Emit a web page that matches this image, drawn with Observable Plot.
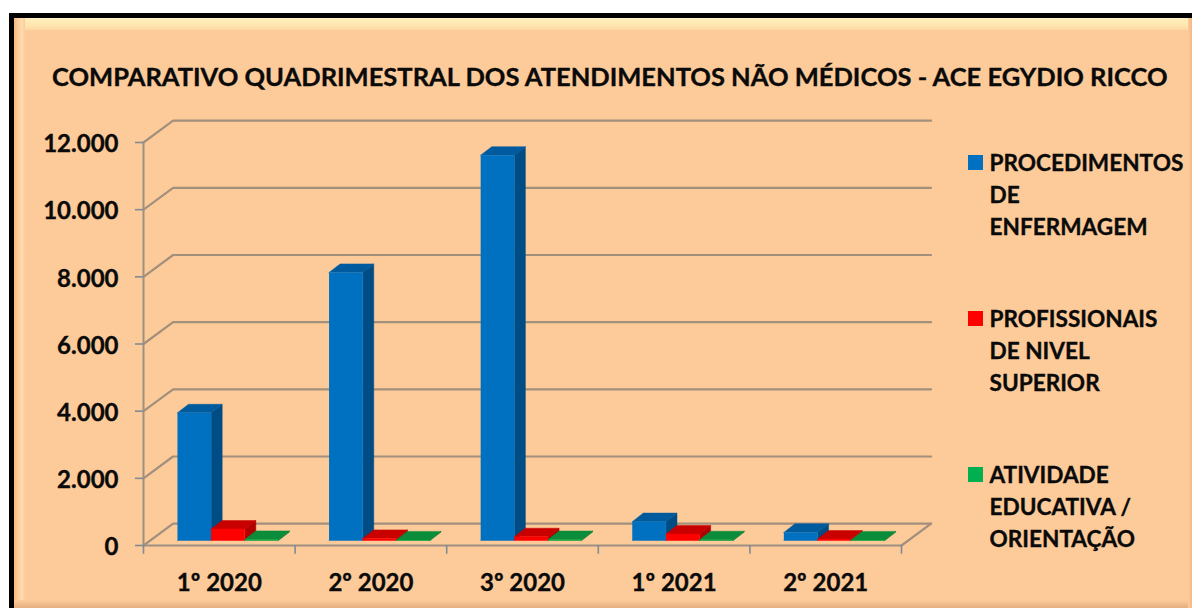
<!DOCTYPE html>
<html lang="pt">
<head>
<meta charset="utf-8">
<script src="https://cdn.jsdelivr.net/npm/d3@7"></script>
<script src="https://cdn.jsdelivr.net/npm/@observablehq/plot@0.6"></script>
<style>
html,body{margin:0;padding:0;background:#fff;width:1192px;height:608px;overflow:hidden;font-family:Lato,sans-serif;font-weight:700;color:#0a0a0a}
#frame{position:absolute;left:9px;top:13px;width:1183px;height:595px;box-sizing:border-box;border-left:5px solid #000;border-top:5px solid #000;background:#FDCB99;overflow:hidden}
.bevel{position:absolute}
#bt{left:0;right:4px;top:0;height:12px;background:linear-gradient(#FFF0BE,#FFE6B0 60%,#FDD7A4)}
#bl{left:0;top:0;bottom:0;width:11px;background:linear-gradient(90deg,#F9B87F,#FFDDB0 70%,#FDCB99)}
#bb{left:0;right:0;bottom:0;height:8px;background:linear-gradient(#FDCB99,#E5AE80)}
#br{right:0;top:0;bottom:0;width:4px;background:linear-gradient(90deg,#FDCB99,#F0B98A)}
#title{position:absolute;left:52px;top:58px;white-space:nowrap;font-size:25.5px;line-height:36px;-webkit-text-stroke:.35px #0a0a0a}
#chart{position:absolute;left:0;top:100px}
#chart text{stroke:#0a0a0a;stroke-width:.35px}
.leg{position:absolute;left:989.5px;font-size:22.6px;line-height:32.2px;white-space:nowrap;-webkit-text-stroke:.35px #0a0a0a}
.sw{position:absolute;left:968px;width:15px;height:15px}
</style>
</head>
<body>
<div id="frame"><div class="bevel" id="bt"></div><div class="bevel" id="bl"></div><div class="bevel" id="bb"></div><div class="bevel" id="br"></div></div>
<div id="title"></div>
<div id="chart"></div>
<div id="legend"></div>
<script>
const titleText = "COMPARATIVO QUADRIMESTRAL DOS ATENDIMENTOS NÃO MÉDICOS - ACE EGYDIO RICCO";
const categories = ["1º 2020", "2º 2020", "3º 2020", "1º 2021", "2º 2021"];
const procedimentos = [3800, 7980, 11470, 560, 240];
const profissionais = [340, 60, 110, 190, 40];
const atividade = [30, 15, 25, 20, 15];
const yTicks = [0, 2000, 4000, 6000, 8000, 10000, 12000];
const seriesNames = [["PROCEDIMENTOS", "DE", "ENFERMAGEM"], ["PROFISSIONAIS", "DE NIVEL", "SUPERIOR"], ["ATIVIDADE", "EDUCATIVA /", "ORIENTAÇÃO"]];
const seriesValues = [procedimentos, profissionais, atividade];
const palette = [
  {front: "#0070C0", side: "#004C85", top: "#005A9E", key: "#0070C0"},
  {front: "#FF0000", side: "#B00000", top: "#C80000", key: "#FF0000"},
  {front: "#00A040", side: "#007A30", top: "#0B8C3A", key: "#00B050"}
];

// Oblique projection, expressed in data units of the x and y scales
const wallX = 0.195, wallY = 650;     // depth of the floor / back wall
const barDX = 0.073, barDY = 255;     // depth of a bar
const baseY = 150;                    // bars stand slightly inside the floor
const barStart = 0.224, barWidth = 0.222;

const polys = [];
function poly(id, color, pts) { pts.forEach(([x, y]) => polys.push({id, color, x, y})); }
categories.forEach((c, i) => {
  seriesValues.forEach((vals, s) => {
    const x0 = i + barStart + s * barWidth, x1 = x0 + barWidth, y0 = baseY, y1 = baseY + vals[i];
    const p = palette[s], id = `${i}-${s}`;
    poly(id + "-side", p.side, [[x1, y0], [x1 + barDX, y0 + barDY], [x1 + barDX, y1 + barDY], [x1, y1]]);
    poly(id + "-top", p.top, [[x0, y1], [x0 + barDX, y1 + barDY], [x1 + barDX, y1 + barDY], [x1, y1]]);
    poly(id + "-front", p.front, [[x0, y0], [x1, y0], [x1, y1], [x0, y1]]);
  });
});

const grid = yTicks.flatMap(v => [
  {v, x: 0, y: v},
  {v, x: wallX, y: v + wallY},
  {v, x: 5 + wallX, y: v + wallY}
]);
const floorEdge = [{x: 5, y: 0}, {x: 5 + wallX, y: wallY}];
const frontAxis = [{x: 0, y: 0}, {x: 5, y: 0}];
const leftAxis = [{x: 0, y: 0}, {x: 0, y: 12000}];

const fmt = v => d3.format(",")(v).replace(/,/g, ".");
const lineC = "#A3907C";

const plot = Plot.plot({
  width: 950, height: 508,
  marginLeft: 143, marginRight: 49, marginTop: 42, marginBottom: 63,
  style: {background: "transparent", overflow: "visible", fontFamily: "Lato, sans-serif", fontWeight: 700},
  x: {type: "linear", domain: [0, 5], axis: null},
  y: {type: "linear", domain: [0, 12000], axis: null},
  color: {type: "identity"},
  marks: [
    Plot.line(grid, {x: "x", y: "y", z: "v", stroke: lineC, strokeWidth: 2.2, curve: "linear"}),
    Plot.line(floorEdge, {x: "x", y: "y", stroke: lineC, strokeWidth: 2.2}),
    Plot.line(leftAxis, {x: "x", y: "y", stroke: "#9C9082", strokeWidth: 2}),
    Plot.line(frontAxis, {x: "x", y: "y", stroke: "#9C9082", strokeWidth: 2.2}),
    Plot.ruleX([0, 1, 2, 3, 4, 5], {x: d => d, y1: 0, y2: -260, stroke: "#7F8B96", strokeWidth: 1.6}),
    Plot.line(polys, {x: "x", y: "y", z: "id", fill: "color", stroke: "color", strokeWidth: 0.5, curve: "linear"}),
    Plot.axisY({ticks: yTicks, tickFormat: fmt, tickSize: 8, tickPadding: 17, stroke: "#7F8B96", strokeWidth: 1.6, fill: "#0a0a0a", fontSize: 24, fontWeight: 700, label: null}),
    Plot.axisX({ticks: categories.map((c, i) => i + 0.5), tickFormat: t => categories[Math.floor(t)], tickSize: 0, tickPadding: 28, fill: "#0a0a0a", fontSize: 24, fontWeight: 700, label: null})
  ]
});
plot.setAttribute("overflow", "visible");
document.getElementById("chart").appendChild(plot);
document.getElementById("title").textContent = titleText;
// the value labels sit slightly below their ticks in the reference
plot.querySelectorAll('[aria-label="y-axis tick label"] text').forEach(t => t.setAttribute("dy", "2"));

const legend = document.getElementById("legend");
const legendTops = [147, 303, 459];
seriesNames.forEach((lines, s) => {
  const sw = document.createElement("div");
  sw.className = "sw";
  sw.style.top = (legendTops[s] + 8) + "px";
  sw.style.background = palette[s].key;
  legend.appendChild(sw);
  lines.forEach((t, k) => {
    const d = document.createElement("div");
    d.className = "leg";
    d.style.top = (legendTops[s] + k * 32.2) + "px";
    d.textContent = t;
    legend.appendChild(d);
  });
});
</script>
</body>
</html>
